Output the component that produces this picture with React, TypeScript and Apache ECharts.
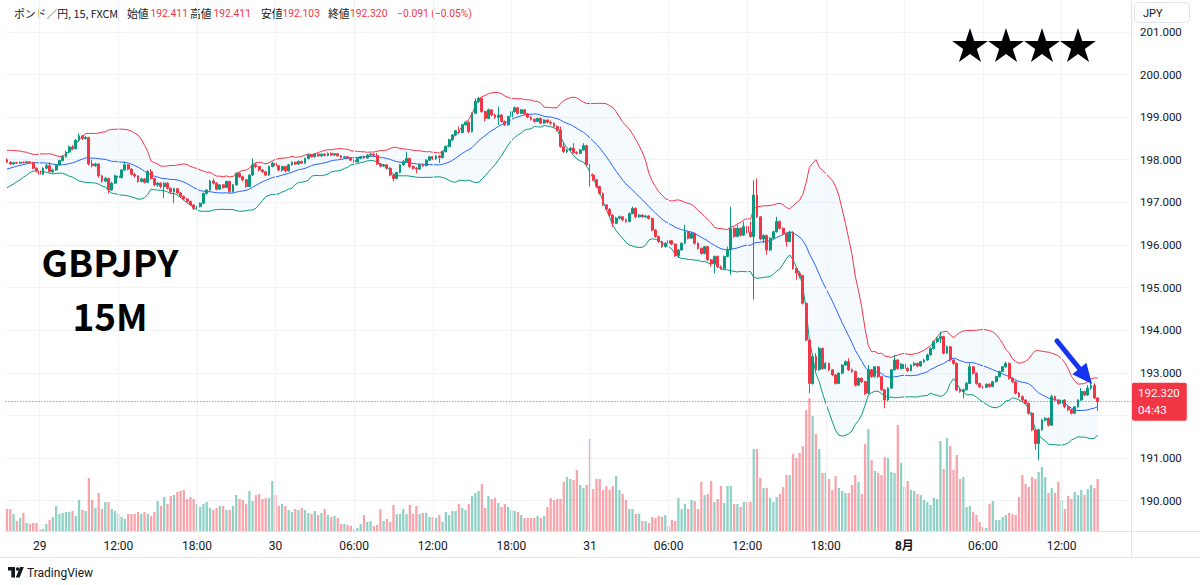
import React, { useEffect, useRef } from "react";
import * as echarts from "echarts";

const tickIndex = [10, 34, 58, 82, 106, 130, 154, 178, 202, 226, 250, 274, 298, 322];
const tickText = ["29", "12:00", "18:00", "30", "06:00", "12:00", "18:00", "31", "06:00", "12:00", "18:00", "8月", "06:00", "12:00"];
const slotCount = 344;

const priorCloses = [197.45, 197.5, 197.48, 197.55, 197.52, 197.6, 197.58, 197.66, 197.7, 197.75, 197.82, 197.9, 197.98, 198.05, 198.1, 198.08, 198.02, 197.98, 197.96];

// [open, close, low, high]
const candles: number[][] = [
  [198.00,197.94,197.92,198.03],[197.94,197.90,197.88,197.97],[197.90,197.93,197.88,197.95],[197.93,197.92,197.90,197.95],
  [197.92,197.94,197.91,197.96],[197.94,197.93,197.91,197.96],[197.93,197.95,197.92,197.97],[197.95,197.93,197.91,197.96],
  [197.93,197.80,197.78,197.95],[197.80,197.74,197.70,197.82],[197.74,197.66,197.62,197.76],[197.66,197.80,197.64,197.82],
  [197.80,197.86,197.78,197.90],[197.86,197.72,197.70,197.94],[197.72,197.76,197.68,197.79],[197.76,197.88,197.74,197.90],
  [197.88,197.98,197.86,198.00],[197.98,198.07,197.96,198.10],[198.07,198.18,198.05,198.21],[198.18,198.30,198.15,198.33],
  [198.30,198.26,198.22,198.35],[198.26,198.46,198.24,198.48],[198.46,198.56,198.42,198.62],[198.56,198.50,198.46,198.58],
  [198.50,198.52,198.47,198.56],[198.52,197.90,197.86,198.54],[197.90,197.86,197.82,198.00],[197.86,197.90,197.83,197.93],
  [197.90,197.62,197.58,197.92],[197.62,197.50,197.46,197.65],[197.50,197.56,197.47,197.60],[197.56,197.29,197.21,197.58],
  [197.29,197.45,197.27,197.48],[197.45,197.62,197.43,197.65],[197.62,197.58,197.55,197.66],[197.58,197.76,197.56,197.78],
  [197.76,197.88,197.74,197.96],[197.88,197.78,197.75,197.90],[197.78,197.66,197.63,197.80],[197.66,197.62,197.58,197.69],
  [197.62,197.49,197.46,197.64],[197.49,197.55,197.47,197.58],[197.55,197.47,197.44,197.57],[197.47,197.72,197.45,197.76],
  [197.72,197.56,197.53,197.78],[197.56,197.41,197.38,197.58],[197.41,197.45,197.36,197.48],[197.45,197.37,197.33,197.47],
  [197.37,197.45,197.10,197.47],[197.45,197.33,197.30,197.47],[197.33,197.25,197.21,197.35],[197.25,197.32,196.98,197.34],
  [197.32,197.22,197.19,197.34],[197.22,197.14,197.11,197.24],[197.14,197.08,197.05,197.16],[197.08,197.02,196.99,197.10],
  [197.02,196.94,196.91,197.04],[196.94,196.86,196.82,196.96],[196.86,196.90,196.83,196.92],[196.90,196.98,196.88,197.00],
  [196.98,197.21,196.96,197.23],[197.21,197.29,197.18,197.31],[197.29,197.50,197.27,197.53],[197.50,197.45,197.42,197.56],
  [197.45,197.31,197.28,197.47],[197.31,197.41,197.29,197.43],[197.41,197.35,197.32,197.43],[197.35,197.49,197.33,197.51],
  [197.49,197.25,197.21,197.51],[197.25,197.41,197.23,197.43],[197.41,197.68,197.39,197.70],[197.68,197.60,197.57,197.70],
  [197.60,197.53,197.50,197.62],[197.53,197.37,197.34,197.55],[197.37,197.64,197.35,197.66],[197.64,197.88,197.62,198.03],
  [197.88,197.84,197.80,197.92],[197.84,197.76,197.73,197.86],[197.76,197.72,197.69,197.78],[197.72,197.64,197.61,197.74],
  [197.64,197.84,197.62,197.86],[197.84,197.92,197.82,197.95],[197.92,197.86,197.83,197.94],[197.86,197.76,197.73,197.88],
  [197.76,197.84,197.72,197.86],[197.84,197.74,197.70,197.86],[197.74,197.88,197.72,197.90],[197.88,197.94,197.86,197.96],
  [197.94,197.90,197.88,197.96],[197.90,197.96,197.88,197.98],[197.96,197.92,197.90,197.98],[197.92,198.03,197.90,198.05],
  [198.03,198.11,198.01,198.13],[198.11,198.07,198.05,198.13],[198.07,198.13,198.05,198.15],[198.13,198.09,198.07,198.15],
  [198.09,198.13,198.07,198.15],[198.13,198.10,198.08,198.15],[198.10,198.15,198.08,198.17],[198.15,198.11,198.09,198.17],
  [198.11,198.14,198.09,198.16],[198.14,198.09,198.07,198.16],[198.09,198.05,198.03,198.11],[198.05,198.07,198.03,198.09],
  [198.07,198.04,198.02,198.09],[198.04,197.99,197.97,198.06],[197.99,197.95,197.93,198.01],[197.95,198.03,197.93,198.05],
  [198.03,198.07,198.01,198.09],[198.07,198.04,198.02,198.10],[198.04,198.11,198.02,198.13],[198.11,198.13,198.09,198.16],
  [198.13,198.10,198.08,198.15],[198.10,197.90,197.88,198.16],[197.90,197.85,197.82,197.92],[197.85,197.88,197.83,197.90],
  [197.88,197.80,197.77,197.90],[197.80,197.64,197.61,197.82],[197.64,197.56,197.49,197.66],[197.56,197.70,197.54,197.72],
  [197.70,197.88,197.68,197.90],[197.88,197.96,197.86,197.99],[197.96,198.03,197.94,198.19],[198.03,197.84,197.81,198.05],
  [197.84,197.80,197.77,197.86],[197.80,197.78,197.68,197.83],[197.78,197.88,197.76,197.90],[197.88,197.86,197.83,197.91],
  [197.86,197.99,197.84,198.01],[197.99,198.07,197.97,198.09],[198.07,198.02,197.99,198.09],[198.02,198.09,198.00,198.11],
  [198.09,198.05,197.92,198.11],[198.05,198.19,198.03,198.21],[198.19,198.31,198.17,198.33],[198.31,198.47,198.29,198.49],
  [198.47,198.58,198.45,198.60],[198.58,198.68,198.56,198.70],[198.68,198.64,198.60,198.78],[198.64,198.82,198.62,198.84],
  [198.82,198.88,198.80,198.90],[198.88,198.66,198.63,198.92],[198.66,199.09,198.64,199.11],[199.09,199.37,199.07,199.44],
  [199.37,199.44,199.33,199.48],[199.44,199.13,199.10,199.46],[199.13,198.97,198.90,199.15],[198.97,199.17,198.95,199.20],
  [199.17,199.05,199.02,199.19],[199.05,198.99,198.96,199.08],[198.99,199.05,198.82,199.25],[199.05,198.90,198.87,199.07],
  [198.90,198.82,198.79,198.92],[198.82,199.01,198.80,199.03],[199.01,199.13,198.99,199.15],[199.13,199.22,199.11,199.25],
  [199.22,199.09,199.06,199.24],[199.09,199.17,199.07,199.19],[199.17,199.08,199.05,199.19],[199.08,199.00,198.97,199.10],
  [199.00,198.95,198.92,199.02],[198.95,198.90,198.87,198.97],[198.90,198.97,198.88,198.99],[198.97,198.86,198.83,198.99],
  [198.86,198.93,198.84,198.95],[198.93,198.88,198.85,198.95],[198.88,198.86,198.82,198.92],[198.86,198.78,198.75,198.88],
  [198.78,198.70,198.66,198.80],[198.70,198.31,198.28,198.78],[198.31,198.19,198.16,198.40],[198.19,198.23,198.16,198.26],
  [198.23,198.27,198.20,198.30],[198.27,198.17,198.14,198.39],[198.17,198.15,198.12,198.20],[198.15,198.23,198.13,198.25],
  [198.23,198.33,198.21,198.39],[198.33,197.88,197.85,198.35],[197.88,197.64,197.37,197.90],[197.64,197.53,197.50,197.68],
  [197.53,197.37,197.34,197.55],[197.37,197.21,197.18,197.39],[197.21,196.94,196.91,197.23],[196.94,196.84,196.81,196.96],
  [196.84,196.70,196.67,196.86],[196.70,196.51,196.43,196.72],[196.51,196.63,196.49,196.66],[196.63,196.66,196.60,196.69],
  [196.66,196.59,196.56,196.68],[196.59,196.55,196.52,196.62],[196.55,196.74,196.53,196.76],[196.74,196.86,196.72,196.90],
  [196.86,196.66,196.63,196.88],[196.66,196.70,196.64,196.72],[196.70,196.66,196.64,196.72],[196.66,196.68,196.64,196.70],
  [196.68,196.62,196.60,196.70],[196.62,196.35,196.32,196.64],[196.35,196.20,196.17,196.37],[196.20,196.08,196.05,196.22],
  [196.08,195.96,195.93,196.10],[195.96,196.04,195.94,196.06],[196.04,196.10,196.02,196.12],[196.10,196.02,195.99,196.12],
  [196.02,195.75,195.72,196.04],[195.75,195.88,195.69,195.90],[195.88,196.04,195.86,196.06],[196.04,196.31,196.02,196.47],
  [196.31,196.16,196.13,196.33],[196.16,196.27,196.14,196.30],[196.27,196.04,196.01,196.29],[196.04,195.92,195.89,196.06],
  [195.92,195.80,195.77,195.94],[195.80,195.96,195.78,195.98],[195.96,195.65,195.62,195.98],[195.65,195.57,195.49,195.67],
  [195.57,195.73,195.33,195.75],[195.73,195.49,195.46,195.75],[195.49,195.45,195.42,195.52],[195.45,195.73,195.43,195.75],
  [195.73,195.88,195.71,195.96],[195.88,196.39,195.30,196.90],[196.39,196.20,196.17,196.41],[196.20,196.39,196.18,196.47],
  [196.39,196.23,196.20,196.41],[196.23,196.43,196.21,196.55],[196.43,196.30,196.27,196.45],[196.30,196.20,196.17,196.55],
  [196.20,197.17,194.72,197.52],[197.17,196.66,196.63,197.56],[196.66,196.14,196.11,196.68],[196.14,196.22,196.04,196.25],
  [196.22,195.88,195.77,196.24],[195.88,196.16,195.86,196.18],[196.16,196.31,196.14,196.33],[196.31,196.55,196.29,196.66],
  [196.55,196.39,196.36,196.57],[196.39,196.27,196.24,196.41],[196.27,196.08,195.96,196.29],[196.08,196.30,196.06,196.33],
  [196.30,195.45,195.42,196.32],[195.45,195.34,195.18,195.47],[195.34,195.28,195.22,195.38],[195.28,194.63,194.60,195.30],
  [194.63,193.77,193.74,194.66],[193.77,192.75,192.52,193.80],[192.75,193.38,192.72,193.42],[193.38,193.07,193.04,193.46],
  [193.07,193.57,193.05,193.61],[193.57,193.10,193.07,193.59],[193.10,193.22,193.08,193.25],[193.22,193.07,193.04,193.24],
  [193.07,192.95,192.92,193.09],[192.95,192.75,192.72,192.97],[192.75,192.99,192.73,193.01],[192.99,193.18,192.97,193.20],
  [193.18,193.26,193.16,193.29],[193.26,193.07,193.04,193.34],[193.07,193.03,193.00,193.10],[193.03,192.71,192.68,193.05],
  [192.71,192.87,192.69,192.89],[192.87,192.79,192.76,192.89],[192.79,192.52,192.48,192.81],[192.52,193.07,192.50,193.18],
  [193.07,192.91,192.88,193.09],[192.91,193.14,192.89,193.16],[193.14,192.91,192.88,193.16],[192.91,192.60,192.57,192.93],
  [192.60,192.36,192.17,192.62],[192.36,192.64,192.34,192.66],[192.64,193.07,192.62,193.09],[193.07,193.30,193.05,193.42],
  [193.30,193.10,193.07,193.32],[193.10,193.20,193.08,193.23],[193.20,193.10,193.07,193.22],[193.10,193.05,193.02,193.13],
  [193.05,193.18,193.03,193.20],[193.18,193.22,193.15,193.25],[193.22,193.16,193.13,193.24],[193.16,193.26,193.14,193.28],
  [193.26,193.30,193.23,193.33],[193.30,193.42,193.28,193.45],[193.42,193.57,193.40,193.60],[193.57,193.73,193.55,193.76],
  [193.73,193.80,193.70,193.84],[193.80,193.85,193.70,193.97],[193.85,193.46,193.43,193.87],[193.46,193.61,193.44,193.64],
  [193.61,193.30,193.26,193.63],[193.30,193.22,193.19,193.32],[193.22,192.60,192.57,193.24],[192.60,192.56,192.53,192.64],
  [192.56,192.60,192.40,192.63],[192.60,192.75,192.58,192.78],[192.75,193.14,192.73,193.22],[193.14,192.99,192.96,193.16],
  [192.99,192.75,192.72,193.01],[192.75,192.67,192.64,192.77],[192.67,192.66,192.63,192.70],[192.66,192.73,192.64,192.75],
  [192.73,192.68,192.65,192.75],[192.68,192.79,192.66,192.81],[192.79,192.91,192.77,192.93],[192.91,193.03,192.89,193.05],
  [193.03,193.14,193.01,193.16],[193.14,193.22,193.12,193.26],[193.22,192.87,192.84,193.24],[192.87,192.79,192.76,192.89],
  [192.79,192.52,192.49,192.81],[192.52,192.44,192.41,192.55],[192.44,192.36,192.33,192.47],[192.36,192.28,192.25,192.38],
  [192.28,192.05,192.02,192.30],[192.05,191.66,191.63,192.07],[191.66,191.34,191.19,191.68],[191.34,191.66,190.95,191.69],
  [191.66,191.89,191.64,191.92],[191.89,191.93,191.86,191.96],[191.93,191.77,191.74,191.95],[191.77,192.44,191.75,192.48],
  [192.44,192.36,192.33,192.46],[192.36,192.28,192.25,192.38],[192.28,192.36,192.26,192.38],[192.36,192.20,192.17,192.38],
  [192.20,192.13,192.10,192.22],[192.13,192.05,192.02,192.15],[192.05,192.20,192.03,192.22],[192.20,192.36,192.18,192.38],
  [192.36,192.56,192.34,192.64],[192.56,192.48,192.45,192.58],[192.48,192.64,192.46,192.71],[192.64,192.70,192.60,192.79],
  [192.70,192.41,192.38,192.75],[192.411,192.320,192.103,192.411],
];

const volumes = [
  22,22,17,10,13,18,8,7,8,8, 2,2,7,11,14,25,17,18,19,19, 20,15,31,21,20,53,31,23,38,22,
  29,29,22,20,17,14,12,17,17,17, 19,17,19,17,15,19,30,25,34,27, 35,36,39,40,41,32,34,32,27,24,
  27,29,23,21,23,25,25,21,21,25, 36,32,31,27,40,30,36,37,32,33, 33,50,36,25,27,25,21,19,22,21,
  23,21,18,17,20,16,18,22,16,14, 15,13,7,7,6,5,2,3,7,16, 9,10,5,6,22,10,12,9,26,17,
  17,22,17,26,17,25,17,18,18,14, 14,13,16,9,19,16,20,20,27,23, 21,27,35,38,40,47,23,35,32,33,
  28,24,27,24,21,20,19,16,13,13, 13,13,15,13,15,24,33,31,32,32, 49,54,52,51,61,46,43,46,92,42,
  52,52,41,45,41,45,55,41,37,31, 22,22,17,17,10,10,8,14,13,15, 14,16,5,11,10,33,22,27,22,31,
  30,22,49,36,37,50,29,32,45,28, 45,45,27,27,24,29,29,29,82,82, 53,43,43,33,29,34,37,44,56,56,
  77,73,78,85,121,133,115,97,82,58, 58,52,41,55,43,40,38,38,46,56, 49,37,87,102,71,60,58,56,74,73,
  59,58,106,68,44,50,41,40,37,36, 31,29,26,33,32,90,62,93,85,61, 76,52,54,24,25,19,16,9,4,3,
  27,30,11,11,14,16,18,17,16,34, 56,47,44,54,52,59,64,54,38,43, 38,49,31,22,35,32,39,36,41,36,
  42,46,43,52,
];

const lastPrice = 192.32;
const lastPriceText = "192.320";
const countdownText = "04:43";
const symbolTitle = "ポンド／円, 15, FXCM";
const legendLabels = ["始値", "高値", "安値", "終値"];
const legendValues = ["192.411", "192.411", "192.103", "192.320"];
const changeText = "−0.091 (−0.05%)";
const priceTicks = { min: 190, max: 201, step: 1 };
const hiddenPriceLabel = 192; // covered by the last-price tag
const bbPeriod = 20;
const bbMult = 2;

const UP = "#089981";
const DOWN = "#F23645";
const TEXT = "#131722";
const GRIDC = "#f0f3fa";
const BORDER = "#e0e3eb";
const FONT = "Roboto, 'Noto Sans CJK JP', sans-serif";
const JFONT = "'Noto Sans CJK JP', Roboto, sans-serif";

function bollinger() {
  const closes = [...priorCloses, ...candles.map((c) => c[1])];
  const upper: number[] = [], mid: number[] = [], lower: number[] = [];
  for (let i = 0; i < candles.length; i++) {
    const w = closes.slice(i, i + bbPeriod);
    const m = w.reduce((a, b) => a + b, 0) / w.length;
    const sd = Math.sqrt(w.reduce((a, b) => a + (b - m) * (b - m), 0) / w.length);
    mid.push(m);
    upper.push(m + bbMult * sd);
    lower.push(m - bbMult * sd);
  }
  return { upper, mid, lower };
}

function starPoints(cx: number, cy: number, R: number) {
  const r = R * 0.382;
  const pts: number[][] = [];
  for (let k = 0; k < 10; k++) {
    const a = -Math.PI / 2 + (k * Math.PI) / 5;
    const rad = k % 2 === 0 ? R : r;
    pts.push([cx + rad * Math.cos(a), cy + rad * Math.sin(a)]);
  }
  return pts;
}

export default function App() {
  const ref = useRef<HTMLDivElement>(null);
  useEffect(() => {
    document.body.style.margin = "0";
    const chart = echarts.init(ref.current!, null, { renderer: "svg" });
    const cats = Array.from({ length: slotCount }, (_, i) => String(i));
    const bb = bollinger();
    const gridLeft = 5.36;
    const gridRight = 68;

    const legendX = [[127, 150.5], [190, 213.5], [261, 282.5], [328, 350]];
    const lblFont = `10.8px ${JFONT}`;
    const numFont = `10.3px ${FONT}`;
    const graphics: any[] = [
      { type: "text", x: 14, y: 13, style: { text: symbolTitle, fill: TEXT, font: lblFont, verticalAlign: "middle" } },
      ...legendLabels.flatMap((lab, k) => [
        { type: "text", x: legendX[k][0], y: 13, style: { text: lab, fill: TEXT, font: lblFont, verticalAlign: "middle" } },
        { type: "text", x: legendX[k][1], y: 13, style: { text: legendValues[k], fill: DOWN, font: numFont, verticalAlign: "middle" } },
      ]),
      { type: "text", x: 397, y: 13, style: { text: changeText, fill: DOWN, font: numFont, verticalAlign: "middle" } },
      { type: "line", shape: { x1: 1131.5, y1: 0, x2: 1131.5, y2: 557 }, style: { stroke: BORDER, lineWidth: 1 }, z: 10 },
      { type: "line", shape: { x1: 0, y1: 557.5, x2: 1200, y2: 557.5 }, style: { stroke: BORDER, lineWidth: 1 }, z: 10 },
      { type: "line", shape: { x1: 1131, y1: 531.5, x2: 1200, y2: 531.5 }, style: { stroke: BORDER, lineWidth: 1 }, z: 10 },
      { type: "rect", shape: { x: 1134.5, y: 2.5, width: 55, height: 20, r: 4 }, style: { fill: "#fff", stroke: BORDER, lineWidth: 1 }, z: 10 },
      { type: "text", x: 1143, y: 13, style: { text: "JPY", fill: TEXT, font: `11px ${FONT}`, verticalAlign: "middle" }, z: 11 },
      { type: "text", x: 110, y: 261, style: { text: "GBPJPY", fill: "#000", font: `bold 37px 'Noto Sans CJK JP', sans-serif`, align: "center", verticalAlign: "middle" }, z: 10 },
      { type: "text", x: 110, y: 315, style: { text: "15M", fill: "#000", font: `bold 37px 'Noto Sans CJK JP', sans-serif`, align: "center", verticalAlign: "middle" }, z: 10 },
      ...[970, 1006, 1042, 1078].map((cx) => ({ type: "polygon", shape: { points: starPoints(cx, 46.8, 18.8) }, style: { fill: "#000" }, z: 10 })),
      { type: "line", shape: { x1: 1057, y1: 341, x2: 1081, y2: 370.5 }, style: { stroke: "#1733f2", lineWidth: 5, lineCap: "round" }, z: 12 },
      { type: "polygon", shape: { points: [[1092, 384], [1072.4, 374.2], [1086.4, 362.8]] }, style: { fill: "#1733f2" }, z: 12 },
      { type: "polygon", shape: { points: [[8, 567], [15, 567], [15, 577.5], [11.3, 577.5], [11.3, 570.6], [8, 570.6]] }, style: { fill: TEXT }, z: 10 },
      { type: "circle", shape: { cx: 17.6, cy: 569, r: 1.8 }, style: { fill: TEXT }, z: 10 },
      { type: "polygon", shape: { points: [[20, 567], [23.8, 567], [19.6, 577.5], [15.8, 577.5]] }, style: { fill: TEXT }, z: 10 },
      { type: "text", x: 27, y: 572.5, style: { text: "TradingView", fill: TEXT, font: `12px ${FONT}`, verticalAlign: "middle" }, z: 10 },
    ];

    const option: any = {
      animation: false,
      backgroundColor: "#ffffff",
      grid: [
        { left: gridLeft, right: gridRight, top: 0, height: 531 },
        { left: gridLeft, right: gridRight, top: 31.9, bottom: 84.4 },
      ],
      xAxis: [
        {
          type: "category", gridIndex: 0, data: cats, boundaryGap: true,
          axisLine: { show: true, lineStyle: { color: BORDER } },
          axisTick: { show: false },
          splitLine: { show: false },
          axisLabel: {
            interval: (idx: number) => tickIndex.includes(idx),
            formatter: (_v: string, idx: number) => {
              const t = tickText[tickIndex.indexOf(idx)];
              return t === "8月" ? `{b|${t}}` : t;
            },
            rich: { b: { fontWeight: "bold", fontSize: 12, color: TEXT, fontFamily: FONT } },
            color: TEXT, fontSize: 12, fontFamily: FONT, margin: 9, hideOverlap: false,
          },
        },
        { type: "category", gridIndex: 1, data: cats, boundaryGap: true, show: false },
      ],
      yAxis: [
        { type: "value", gridIndex: 0, min: 0, max: 531, show: false, splitLine: { show: false } },
        {
          type: "value", gridIndex: 1, position: "right", min: priceTicks.min, max: priceTicks.max, interval: priceTicks.step,
          axisLine: { show: false }, axisTick: { show: false },
          axisLabel: {
            formatter: (v: number) => (Math.abs(v - hiddenPriceLabel) < 1e-6 ? "" : v.toFixed(3)),
            color: TEXT, fontSize: 11.5, fontFamily: FONT, margin: 8,
          },
          splitLine: { show: true, lineStyle: { color: GRIDC, width: 1 } },
        },
      ],
      series: [
        {
          type: "bar", xAxisIndex: 0, yAxisIndex: 0, barWidth: "70%", z: 1,
          data: volumes.map((v, i) => ({
            value: v,
            itemStyle: { color: candles[i][1] >= candles[i][0] ? "rgba(8,153,129,0.45)" : "rgba(242,54,69,0.45)" },
          })),
          markLine: {
            silent: true, symbol: ["none", "none"], label: { show: false },
            lineStyle: { color: GRIDC, type: "solid", width: 1 },
            data: tickIndex.map((i) => ({ xAxis: i })),
          },
        },
        {
          type: "line", xAxisIndex: 1, yAxisIndex: 1, stack: "bb", data: bb.lower, symbol: "none",
          lineStyle: { opacity: 0 }, z: 2, silent: true,
        },
        {
          type: "line", xAxisIndex: 1, yAxisIndex: 1, stack: "bb", data: bb.upper.map((u, i) => u - bb.lower[i]), symbol: "none",
          lineStyle: { opacity: 0 }, areaStyle: { color: "rgba(33,150,243,0.07)" }, z: 2, silent: true,
        },
        { type: "line", xAxisIndex: 1, yAxisIndex: 1, data: bb.upper, symbol: "none", lineStyle: { color: DOWN, width: 1 }, z: 3, silent: true },
        { type: "line", xAxisIndex: 1, yAxisIndex: 1, data: bb.mid, symbol: "none", lineStyle: { color: "#2962FF", width: 1 }, z: 3, silent: true },
        { type: "line", xAxisIndex: 1, yAxisIndex: 1, data: bb.lower, symbol: "none", lineStyle: { color: UP, width: 1 }, z: 3, silent: true },
        {
          type: "candlestick", xAxisIndex: 1, yAxisIndex: 1, data: candles, barWidth: "72%", z: 4,
          itemStyle: { color: UP, color0: DOWN, borderColor: UP, borderColor0: DOWN, borderWidth: 1 },
          markLine: {
            silent: true, symbol: ["none", "none"],
            data: [{ yAxis: lastPrice }],
            lineStyle: { color: DOWN, type: [1, 2], width: 1 },
            label: {
              show: true, position: "end", distance: 0,
              formatter: `${lastPriceText}\n${countdownText}`,
              backgroundColor: DOWN, color: "#fff", fontSize: 11.5, fontFamily: FONT,
              lineHeight: 17, padding: [2, 7, 2, 6], borderRadius: 2, align: "left",
            },
          },
        },
      ],
      graphic: graphics,
    };
    chart.setOption(option);
    return () => chart.dispose();
  }, []);
  return <div ref={ref} style={{ width: 1200, height: 585 }} />;
}
